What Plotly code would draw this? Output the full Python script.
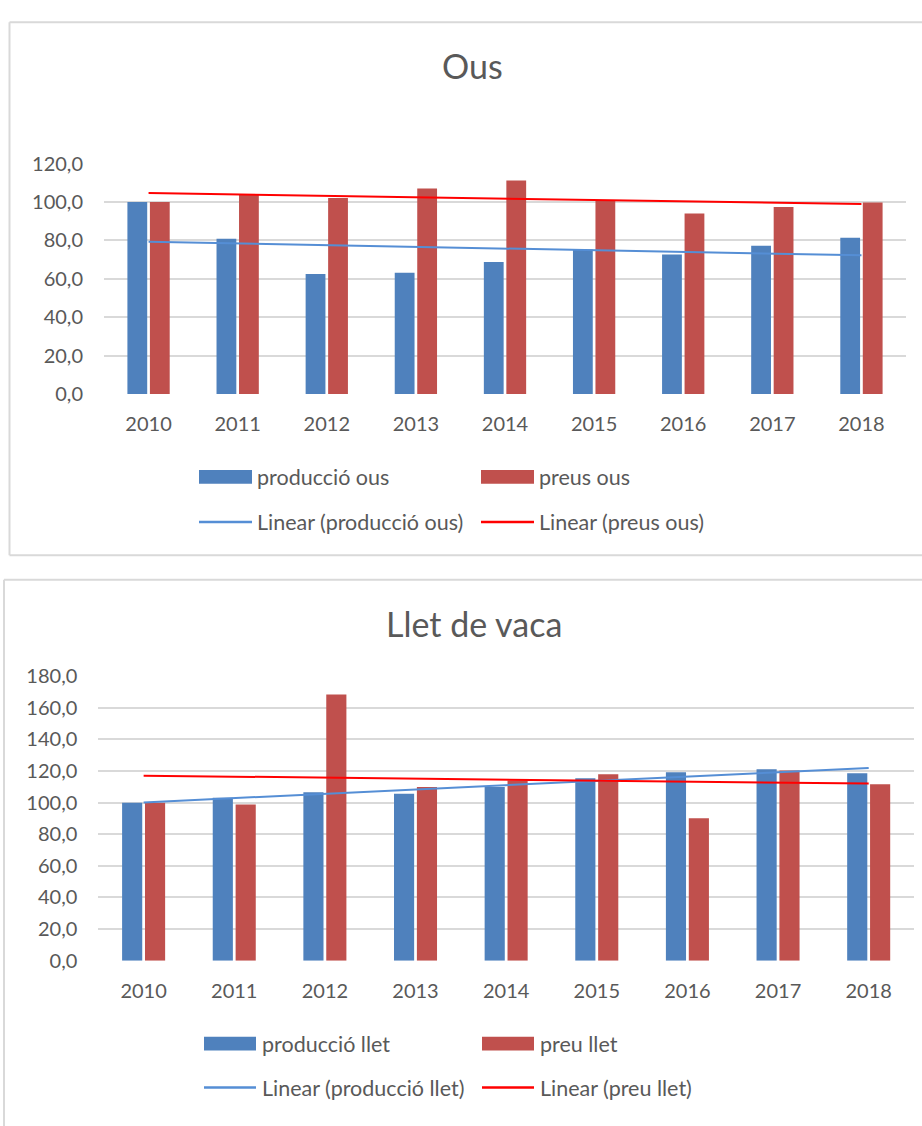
import numpy as np
import plotly.graph_objects as go

# ---------------- data ----------------
years = ["2010", "2011", "2012", "2013", "2014", "2015", "2016", "2017", "2018"]

produccio_ous = [100.0, 80.9, 62.5, 63.2, 68.8, 75.3, 72.7, 77.3, 81.4]
preus_ous = [100.0, 104.0, 102.1, 107.1, 111.3, 100.8, 94.0, 97.4, 99.8]

produccio_llet = [100.0, 103.1, 106.6, 105.6, 109.9, 115.5, 119.2, 121.1, 118.6]
preu_llet = [100.0, 98.8, 168.4, 109.9, 114.1, 118.0, 90.1, 120.3, 111.6]

title_top = "Ous"
title_bottom = "Llet de vaca"
names_top = ["producció ous", "preus ous", "Linear (producció ous)", "Linear (preus ous)"]
names_bottom = ["producció llet", "preu llet", "Linear (producció llet)", "Linear (preu llet)"]

# ---------------- style ----------------
W, H = 922, 1126
BLUE = "#4F81BD"
RED = "#C0504D"
TREND_BLUE = "#558ED5"
TREND_RED = "#FF0000"
GRID = "#D9D9D9"
TEXT = "#595959"
FONT = "Lato, 'Open Sans', sans-serif"


def px_x(x):
    return x / W


def px_y(y):
    return 1 - y / H


def trend(vals):
    idx = np.arange(len(vals))
    a, b = np.polyfit(idx, np.asarray(vals, dtype=float), 1)
    return list(a * idx + b)


fig = go.Figure()

# top chart
fig.add_trace(go.Bar(x=years, y=produccio_ous, name=names_top[0], marker_color=BLUE,
                     marker_line_width=0, xaxis="x", yaxis="y", showlegend=False))
fig.add_trace(go.Bar(x=years, y=preus_ous, name=names_top[1], marker_color=RED,
                     marker_line_width=0, xaxis="x", yaxis="y", showlegend=False))
fig.add_trace(go.Scatter(x=years, y=trend(produccio_ous), name=names_top[2], mode="lines",
                         line=dict(color=TREND_BLUE, width=2), xaxis="x", yaxis="y", showlegend=False))
fig.add_trace(go.Scatter(x=years, y=trend(preus_ous), name=names_top[3], mode="lines",
                         line=dict(color=TREND_RED, width=2), xaxis="x", yaxis="y", showlegend=False))

# bottom chart
fig.add_trace(go.Bar(x=years, y=produccio_llet, name=names_bottom[0], marker_color=BLUE,
                     marker_line_width=0, xaxis="x2", yaxis="y2", showlegend=False))
fig.add_trace(go.Bar(x=years, y=preu_llet, name=names_bottom[1], marker_color=RED,
                     marker_line_width=0, xaxis="x2", yaxis="y2", showlegend=False))
fig.add_trace(go.Scatter(x=years, y=trend(produccio_llet), name=names_bottom[2], mode="lines",
                         line=dict(color=TREND_BLUE, width=2), xaxis="x2", yaxis="y2", showlegend=False))
fig.add_trace(go.Scatter(x=years, y=trend(preu_llet), name=names_bottom[3], mode="lines",
                         line=dict(color=TREND_RED, width=2), xaxis="x2", yaxis="y2", showlegend=False))

xaxis_common = dict(type="category", showgrid=False, showline=False, zeroline=False,
                    ticks="", tickfont=dict(family=FONT, size=20, color=TEXT),
                    ticklabelstandoff=16, fixedrange=True)
yaxis_common = dict(showgrid=True, gridcolor=GRID, gridwidth=1.5, showline=False, zeroline=False,
                    ticks="", tickformat=".1f", dtick=20,
                    tickfont=dict(family=FONT, size=20, color=TEXT),
                    ticklabelstandoff=20, fixedrange=True)

fig.update_layout(
    width=W, height=H,
    margin=dict(l=0, r=0, t=0, b=0),
    paper_bgcolor="white", plot_bgcolor="white",
    separators=",.",
    barmode="group", bargap=0.495, bargroupgap=0.12,
    font=dict(family=FONT, color=TEXT),
    xaxis=dict(domain=[px_x(104), px_x(906)], anchor="y", **xaxis_common),
    yaxis=dict(domain=[px_y(389.3), px_y(154)], anchor="x", range=[0, 120], **yaxis_common),
    xaxis2=dict(domain=[px_x(98.3), px_x(914)], anchor="y2", **xaxis_common),
    yaxis2=dict(domain=[px_y(968.3), px_y(677.7)], anchor="x2", range=[0, 180], **yaxis_common),
)

shapes = []
annotations = []


def hline(x0, x1, y):
    shapes.append(dict(type="line", xref="paper", yref="paper", x0=px_x(x0), x1=px_x(x1),
                       y0=px_y(y), y1=px_y(y), line=dict(color=GRID, width=2), layer="below"))


def vline(x, y0, y1):
    shapes.append(dict(type="line", xref="paper", yref="paper", x0=px_x(x), x1=px_x(x),
                       y0=px_y(y0), y1=px_y(y1), line=dict(color=GRID, width=2), layer="below"))


# frames (open on the right side, as in the reference)
hline(9.5, 922, 9.5)
hline(9.5, 922, 554)
vline(9.5, 9.5, 554)
hline(4, 922, 579)
vline(4, 579, 1140)

# titles
annotations.append(dict(text=title_top, x=px_x(472), y=px_y(54), xref="paper", yref="paper",
                        xanchor="center", yanchor="middle", showarrow=False,
                        font=dict(family=FONT, size=34, color=TEXT)))
annotations.append(dict(text=title_bottom, x=px_x(473.5), y=px_y(624), xref="paper", yref="paper",
                        xanchor="center", yanchor="middle", showarrow=False,
                        font=dict(family=FONT, size=34, color=TEXT)))


def legend(names, y1, y2, x_sw1, x_sw2, w_sw, text_gap):
    # bar swatches
    for name, col, xs in ((names[0], BLUE, x_sw1), (names[1], RED, x_sw2)):
        shapes.append(dict(type="rect", xref="paper", yref="paper",
                           x0=px_x(xs), x1=px_x(xs + w_sw), y0=px_y(y1 + 7), y1=px_y(y1 - 7),
                           line=dict(width=0), fillcolor=col))
        annotations.append(dict(text=name, x=px_x(xs + w_sw + text_gap), y=px_y(y1),
                                xref="paper", yref="paper", xanchor="left", yanchor="middle",
                                showarrow=False, font=dict(family=FONT, size=21.5, color=TEXT)))
    # line swatches
    for name, col, xs in ((names[2], TREND_BLUE, x_sw1), (names[3], TREND_RED, x_sw2)):
        shapes.append(dict(type="line", xref="paper", yref="paper",
                           x0=px_x(xs), x1=px_x(xs + w_sw), y0=px_y(y2), y1=px_y(y2),
                           line=dict(color=col, width=2.5)))
        annotations.append(dict(text=name, x=px_x(xs + w_sw + text_gap), y=px_y(y2),
                                xref="paper", yref="paper", xanchor="left", yanchor="middle",
                                showarrow=False, font=dict(family=FONT, size=21.5, color=TEXT)))


legend(names_top, 474, 520, 199, 481, 53, 3)
legend(names_bottom, 1053, 1098, 204, 482, 52, 4)

fig.update_layout(shapes=shapes, annotations=annotations)

fig.write_html("out.html",
               config={"displayModeBar": False},
               post_script="document.body.style.margin='0';document.body.style.overflow='hidden';")
